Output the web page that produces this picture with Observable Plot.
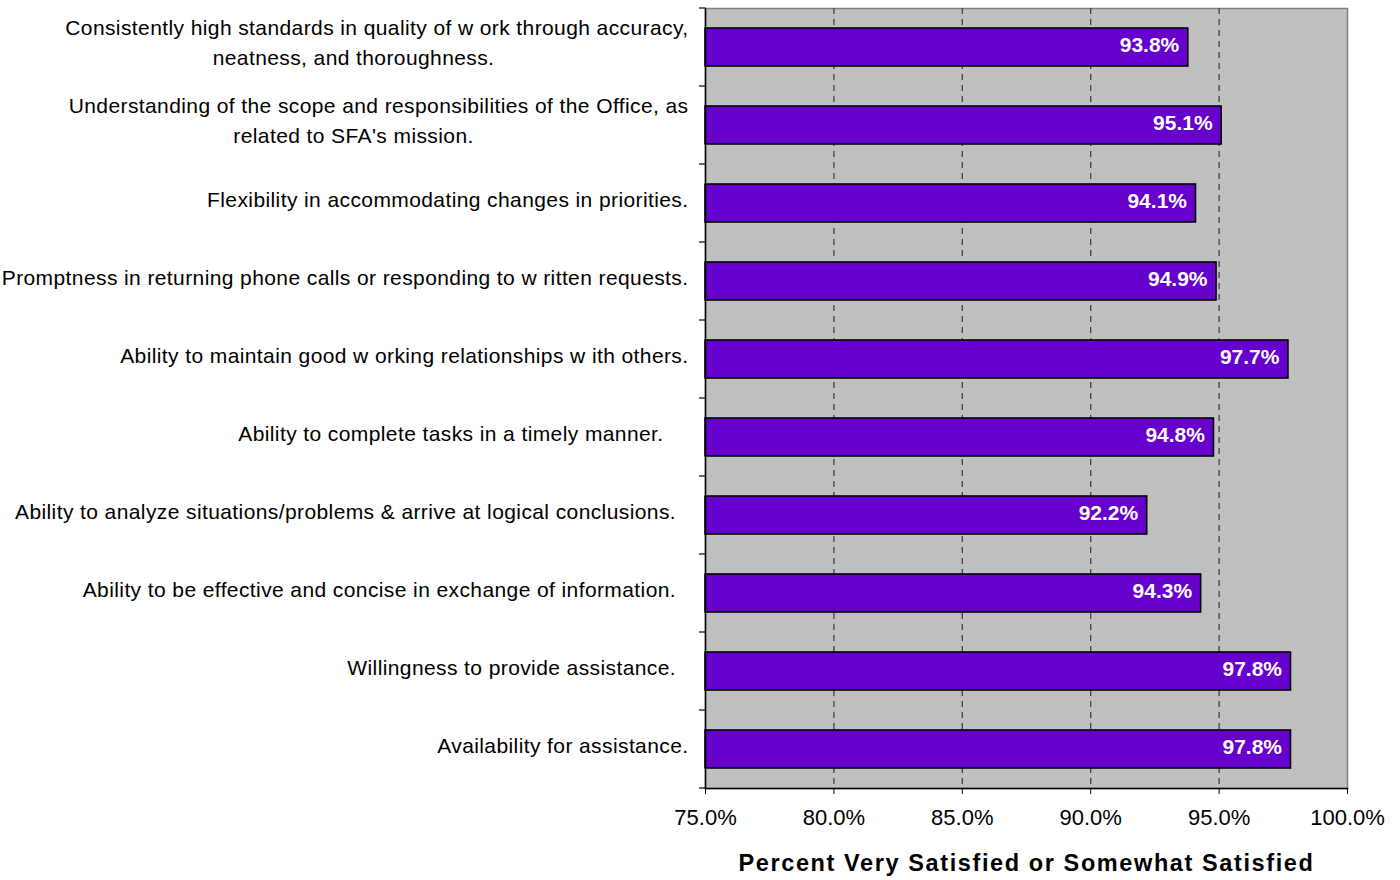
<!DOCTYPE html>
<html><head><meta charset="utf-8">
<script src="https://cdn.jsdelivr.net/npm/d3@7"></script>
<script src="https://cdn.jsdelivr.net/npm/@observablehq/plot@0.6"></script>
<style>
html,body{margin:0;padding:0;background:#fff;}
#chart svg{display:block;}
</style>
</head><body><div id="chart"></div>
<script>
const categories = [
  "Consistently high standards in quality of w ork through accuracy,\nneatness, and thoroughness.",
  "Understanding of the scope and responsibilities of the Office, as\nrelated to SFA's mission.",
  "Flexibility in accommodating changes in priorities.",
  "Promptness in returning phone calls or responding to w ritten requests.",
  "Ability to maintain good w orking relationships w ith others.",
  "Ability to complete tasks in a timely manner.\u00a0\u00a0\u00a0\u00a0",
  "Ability to analyze situations/problems & arrive at logical conclusions.\u00a0\u00a0",
  "Ability to be effective and concise in exchange of information.\u00a0\u00a0",
  "Willingness to provide assistance.\u00a0\u00a0",
  "Availability for assistance."
];
const values = [93.8, 95.1, 94.1, 94.9, 97.7, 94.8, 92.2, 94.3, 97.8, 97.8];
const xDomain = [75, 100];
const xTicks = [75, 80, 85, 90, 95, 100];
const gridTicks = [80, 85, 90, 95];
const xTitle = "Percent Very Satisfied or Somewhat Satisfied";

const data = categories.map((c, i) => {
  const parts = c.split("\n");
  return {cat: c, value: values[i], l1: parts[0], l2: parts[1] || null};
});
const singles = data.filter(d => !d.l2);
const doubles = data.filter(d => d.l2);

const FONT = "'Liberation Sans', Arial, sans-serif";

const chart = Plot.plot({
  width: 1400,
  height: 880,
  marginLeft: 705,
  marginRight: 53,
  marginTop: 8,
  marginBottom: 92,
  style: {fontFamily: FONT, fontSize: "21px", color: "black", background: "white"},
  x: {domain: xDomain, axis: null},
  y: {domain: categories, paddingInner: 0.51, paddingOuter: 0.255, axis: null},
  marks: [
    Plot.frame({fill: "#c0c0c0", stroke: "#808080", strokeWidth: 1.5}),
    Plot.ruleX(gridTicks, {stroke: "#404040", strokeWidth: 1.3, strokeDasharray: "6,5"}),
    Plot.barX(data, {y: "cat", x1: () => xDomain[0], x2: "value", fill: "#6600cc", stroke: "black", strokeWidth: 1.6}),
    Plot.text(data, {y: "cat", x: "value", text: d => d.value.toFixed(1) + "%", textAnchor: "end", dx: -9, dy: -2, fill: "white", fontWeight: "bold", fontSize: 21}),
    Plot.frame({anchor: "left", stroke: "black", strokeWidth: 1.5}),
    Plot.frame({anchor: "bottom", stroke: "black", strokeWidth: 1.5}),
    Plot.axisX({ticks: xTicks, tickFormat: d => d.toFixed(1) + "%", tickSize: 6, tickPadding: 15, fontSize: 22, label: null, stroke: "black"}),
    Plot.text(singles, {y: "cat", frameAnchor: "left", text: "l1", textAnchor: "end", dx: -17, dy: -3, fontSize: 21, fill: "black"}),
    Plot.text(doubles, {y: "cat", frameAnchor: "left", text: "l1", textAnchor: "end", dx: -17, dy: -19, fontSize: 21, fill: "black"}),
    Plot.text(doubles, {y: "cat", frameAnchor: "left", text: "l2", textAnchor: "middle", dx: -352, dy: 11, fontSize: 21, fill: "black"}),
    Plot.text([xTitle], {frameAnchor: "bottom", text: d => d, dy: 82, fontWeight: "bold", fontSize: 23.5, fill: "black"})
  ]
});

document.getElementById("chart").appendChild(chart);

const svg = d3.select(chart);

// letter spacing to match the reference's wide text setting
const labelSet = new Set(data.flatMap(d => [d.l1, d.l2]).filter(Boolean));
svg.selectAll("text").each(function() {
  const t = this.textContent;
  if (labelSet.has(t)) d3.select(this).attr("letter-spacing", "0.4");
  if (t === xTitle) d3.select(this).attr("letter-spacing", "1.6");
});

// category boundary ticks on the left axis, derived from the band scale
const ys = chart.scale("y");
const xs = chart.scale("x");
const x0 = xs.apply(xDomain[0]);
const gap = ys.step - ys.bandwidth;
const first = ys.apply(ys.domain[0]) - gap / 2;
const g = svg.append("g").attr("stroke", "black").attr("stroke-width", 1.2);
for (let i = 0; i <= ys.domain.length; i++) {
  const yy = first + i * ys.step;
  g.append("line").attr("x1", x0 - 6).attr("x2", x0).attr("y1", yy).attr("y2", yy);
}
</script>
</body></html>
